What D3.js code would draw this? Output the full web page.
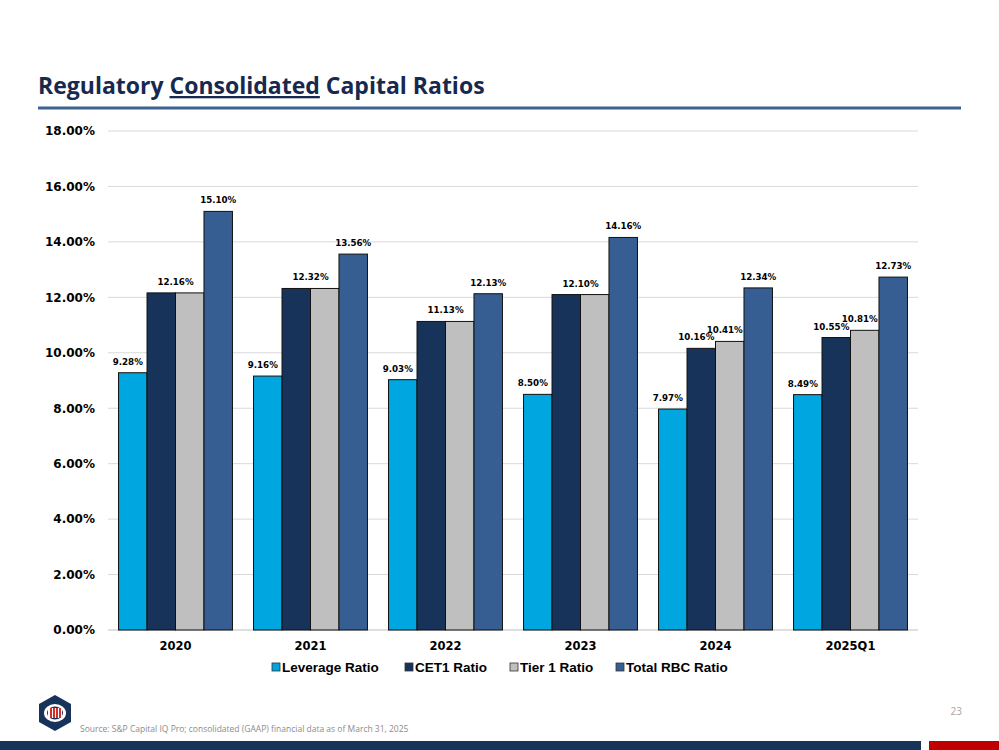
<!DOCTYPE html>
<html>
<head>
<meta charset="utf-8">
<script src="https://cdn.jsdelivr.net/npm/d3@7"></script>
<style>
body{margin:0;background:#fff;}
svg{display:block;}
</style>
</head>
<body>
<svg id="chart" width="999" height="750"></svg>
<script>
var width=999;
var height=750;

// data
var years=["2020","2021","2022","2023","2024","2025Q1"];
var seriesNames=["Leverage Ratio","CET1 Ratio","Tier 1 Ratio","Total RBC Ratio"];
var leverage=[9.28,9.16,9.03,8.50,7.97,8.49];
var cet1=[12.16,12.32,11.13,12.10,10.16,10.55];
var tier1=[12.16,12.32,11.13,12.10,10.41,10.81];
var totalRbc=[15.10,13.56,12.13,14.16,12.34,12.73];
var yTicks=[0,2,4,6,8,10,12,14,16,18];
var barColors=["#00A6E0","#17335A","#BFBFBF","#375E92"];

var wideFont="'DejaVu Sans', Verdana, sans-serif";
var svg=d3.select("#chart");

// title + rule
var title=svg.append("text")
.attr("x",38)
.attr("y",94)
.style("font-family","'Open Sans', 'Noto Sans', sans-serif")
.style("font-weight","bold")
.style("font-size","23px")
.style("fill","#17294F");
title.append("tspan").text("Regulatory ");
title.append("tspan").text("Consolidated").style("text-decoration","underline");
title.append("tspan").text(" Capital Ratios");

svg.append("line")
.attr("x1",38).attr("x2",961)
.attr("y1",108).attr("y2",108)
.style("stroke","#3F6391")
.style("stroke-width",3);

// scales
var x0=d3.scaleBand()
.domain(years)
.range([108,918])
.padding(0);

var x1=d3.scaleBand()
.domain(seriesNames)
.range([0,x0.bandwidth()])
.paddingInner(0)
.paddingOuter(0.37);

var y=d3.scaleLinear()
.domain([0,18])
.range([630,131]);

var color=d3.scaleOrdinal().domain(seriesNames).range(barColors);

// gridlines
svg.append("g")
.selectAll("line")
.data(yTicks)
.join("line")
.attr("x1",108).attr("x2",918)
.attr("y1",d=>y(d)).attr("y2",d=>y(d))
.style("stroke",d=>d==0?"#BFBFBF":"#D9D9D9")
.style("stroke-width",1);

// y axis labels
var yAxis=d3.axisLeft(y)
.tickValues(yTicks)
.tickFormat(d=>d3.format(".2f")(d)+"%")
.tickSize(0)
.tickPadding(13);
var yg=svg.append("g").attr("transform","translate(108,0)").call(yAxis);
yg.select(".domain").remove();
yg.selectAll("text")
.style("font-family",wideFont)
.style("font-weight","bold")
.style("font-size","12px")
.style("fill","#000");

// x axis labels
var xAxis=d3.axisBottom(x0).tickSize(0).tickPadding(12);
var xg=svg.append("g").attr("transform","translate(0,630)").call(xAxis);
xg.select(".domain").remove();
xg.selectAll("text")
.style("font-family",wideFont)
.style("font-weight","bold")
.style("font-size","11.5px")
.style("fill","#000");

// bars
var rows=years.map(function(yr,i){
    return {year:yr,values:[
        {name:seriesNames[0],value:leverage[i]},
        {name:seriesNames[1],value:cet1[i]},
        {name:seriesNames[2],value:tier1[i]},
        {name:seriesNames[3],value:totalRbc[i]}
    ]};
});

var group=svg.append("g")
.selectAll("g")
.data(rows)
.join("g")
.attr("transform",d=>"translate("+x0(d.year)+",0)");

group.selectAll("rect")
.data(d=>d.values)
.join("rect")
.attr("x",d=>x1(d.name))
.attr("y",d=>y(d.value))
.attr("width",x1.bandwidth())
.attr("height",d=>y(0)-y(d.value))
.style("fill",d=>color(d.name))
.style("stroke","#111")
.style("stroke-width",1);

// data labels (CET1 and Tier 1 share one label when equal)
group.selectAll("text")
.data(function(d){
    return d.values.filter(function(v,i){
        return !(i==2 && v.value==d.values[1].value);
    }).map(function(v){
        var cx=x1(v.name)+x1.bandwidth()/2;
        if(v.name=="CET1 Ratio" && d.values[2].value==v.value) cx=x1("Tier 1 Ratio");
        else if(v.name!="Total RBC Ratio") cx-=5;
        return {name:v.name,value:v.value,cx:cx};
    });
})
.join("text")
.attr("x",d=>d.cx)
.attr("y",d=>y(d.value)-8)
.attr("text-anchor","middle")
.style("font-family",wideFont)
.style("font-weight","bold")
.style("font-size","8.7px")
.style("fill","#000")
.text(d=>d3.format(".2f")(d.value)+"%");

// legend
var legend=svg.append("g").attr("transform","translate(272,668)");
var legendX=[0,133,238,344];
var item=legend.selectAll("g")
.data(seriesNames)
.join("g")
.attr("transform",(d,i)=>"translate("+legendX[i]+",0)");
item.append("rect")
.attr("x",0).attr("y",-5)
.attr("width",8).attr("height",8)
.style("fill",d=>color(d))
.style("stroke","#333")
.style("stroke-width",0.8);
item.append("text")
.attr("x",10)
.attr("y",4)
.style("font-family","'Liberation Sans', Arial, sans-serif")
.style("font-weight","bold")
.style("font-size","13.5px")
.style("fill","#000")
.text(d=>d);

// footer logo: navy hexagon, white band, red stripes
var logo=svg.append("g").attr("transform","translate(55,713)");
logo.append("path")
.attr("d",d3.line()([[0,-18],[16,-9],[16,9],[0,18],[-16,9],[-16,-9]])+"Z")
.style("fill","#17335A");
logo.append("path")
.attr("d","M-12,2 A12,10 0 0 1 12,-2 L12,2 A12,10 0 0 1 -12,-2 Z")
.style("fill","none");
logo.append("ellipse").attr("rx",11).attr("ry",9).style("fill","#fff");
logo.append("ellipse").attr("rx",8).attr("ry",6.5).style("fill","#17335A");
logo.append("rect").attr("x",-7).attr("y",-5).attr("width",14).attr("height",10).style("fill","#fff");
[-5,-2,1,4].forEach(function(dx){
    logo.append("rect").attr("x",dx).attr("y",-5).attr("width",2).attr("height",10).style("fill","#D32F2F");
});

svg.append("text")
.attr("x",80).attr("y",732)
.style("font-family","'Open Sans', 'Noto Sans', sans-serif")
.style("font-size","8.5px")
.style("fill","#8C8C8C")
.text("Source: S&P Capital IQ Pro; consolidated (GAAP) financial data as of March 31, 2025");

svg.append("text")
.attr("x",962).attr("y",715)
.attr("text-anchor","end")
.style("font-family","'Open Sans', 'Noto Sans', sans-serif")
.style("font-size","10px")
.style("fill","#A6A6A6")
.text("23");

svg.append("rect").attr("x",0).attr("y",741).attr("width",921).attr("height",9).style("fill","#17335A");
svg.append("rect").attr("x",929).attr("y",741).attr("width",70).attr("height",9).style("fill","#C00000");
</script>
</body>
</html>
